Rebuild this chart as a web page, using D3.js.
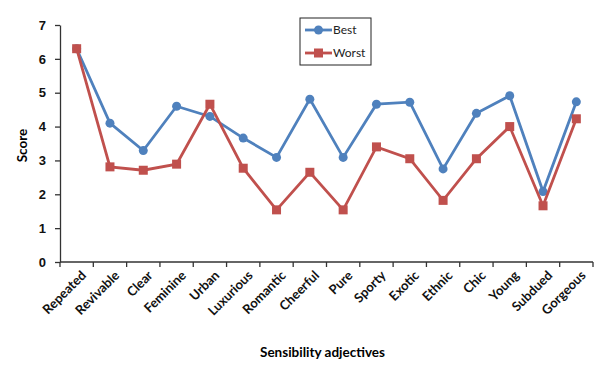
<!DOCTYPE html>
<html>
<head>
<meta charset="utf-8">
<script src="https://cdn.jsdelivr.net/npm/d3@7"></script>
<style>
  body { margin: 0; background: #fff; }
  svg { display: block; font-family: Lato, "Open Sans", sans-serif; }
  .axis path, .axis line { stroke: #333; stroke-width: 1.3; }
  .axis text { font-size: 13px; font-weight: bold; fill: #111; }
</style>
</head>
<body>
<div id="chart"></div>
<script>
"use strict";

var categories = ["Repeated", "Revivable", "Clear", "Feminine", "Urban", "Luxurious", "Romantic",
  "Cheerful", "Pure", "Sporty", "Exotic", "Ethnic", "Chic", "Young", "Subdued", "Gorgeous"];
var bestValues = [6.3, 4.1, 3.29, 4.6, 4.3, 3.66, 3.09, 4.81, 3.09, 4.66, 4.72, 2.75, 4.39, 4.91, 2.08, 4.73];
var worstValues = [6.3, 2.81, 2.71, 2.89, 4.66, 2.77, 1.54, 2.65, 1.54, 3.4, 3.05, 1.82, 3.05, 4.0, 1.66, 4.23];
var yTicks = [0, 1, 2, 3, 4, 5, 6, 7];
var seriesNames = ["Best", "Worst"];

var margin = {top: 25, right: 23, bottom: 110, left: 60},
    width = 616 - margin.left - margin.right,
    height = 372 - margin.top - margin.bottom;

var x = d3.scaleBand().domain(categories).range([0, width]),
    y = d3.scaleLinear().domain([0, 7]).range([height, 0]);

var svg = d3.select("#chart").append("svg")
    .attr("width", 616)
    .attr("height", 372)
  .append("g")
    .attr("transform", "translate(" + margin.left + "," + margin.top + ")");

// y axis
svg.append("g").attr("class", "axis")
  .call(d3.axisLeft(y).tickValues(yTicks).tickFormat(d3.format("d"))
    .tickSize(5).tickSizeOuter(0).tickPadding(9));

// x axis, ticks on band edges
var xAxis = svg.append("g").attr("class", "axis")
  .attr("transform", "translate(0," + height + ")");
xAxis.append("line").attr("x1", 0).attr("x2", width).attr("y1", 0).attr("y2", 0);
xAxis.selectAll(".edge").data(d3.range(categories.length + 1)).enter()
  .append("line").attr("class", "edge")
  .attr("x1", function(i) { return i * x.bandwidth(); })
  .attr("x2", function(i) { return i * x.bandwidth(); })
  .attr("y1", 0).attr("y2", 5);
xAxis.selectAll("text").data(categories).enter()
  .append("text")
  .attr("text-anchor", "end")
  .attr("transform", function(d) {
    return "translate(" + (x(d) + x.bandwidth() / 2 + 7) + ",11) rotate(-45)";
  })
  .attr("dy", "0.35em")
  .text(function(d) { return d; });

// axis titles
svg.append("text")
  .attr("x", width / 2 - 4).attr("y", height + 95)
  .attr("text-anchor", "middle")
  .style("font-size", "13.5px").style("font-weight", "bold")
  .text("Sensibility adjectives");
svg.append("text")
  .attr("transform", "translate(-33," + (height / 2 + 2) + ") rotate(-90)")
  .attr("text-anchor", "middle")
  .style("font-size", "13.5px").style("font-weight", "bold")
  .text("Score");

var line = d3.line()
  .x(function(d, i) { return x(categories[i]) + x.bandwidth() / 2; })
  .y(function(d) { return y(d); });

// Best
svg.append("path").datum(bestValues)
  .attr("fill", "none").attr("stroke", "#4F81BD").attr("stroke-width", 2.8)
  .attr("d", line);
svg.selectAll(".best").data(bestValues).enter()
  .append("circle").attr("class", "best")
  .attr("cx", function(d, i) { return x(categories[i]) + x.bandwidth() / 2; })
  .attr("cy", function(d) { return y(d); })
  .attr("r", 4.5)
  .attr("fill", "#4F81BD");

// Worst
svg.append("path").datum(worstValues)
  .attr("fill", "none").attr("stroke", "#C0504D").attr("stroke-width", 2.8)
  .attr("d", line);
svg.selectAll(".worst").data(worstValues).enter()
  .append("rect").attr("class", "worst")
  .attr("x", function(d, i) { return x(categories[i]) + x.bandwidth() / 2 - 4.5; })
  .attr("y", function(d) { return y(d) - 4.5; })
  .attr("width", 9).attr("height", 9)
  .attr("fill", "#C0504D");

// legend
var legend = svg.append("g").attr("transform", "translate(" + (300 - margin.left) + "," + (18 - margin.top) + ")");
legend.append("rect").attr("width", 71).attr("height", 47)
  .attr("fill", "#fff").attr("stroke", "#222").attr("stroke-width", 1);
var colors = ["#4F81BD", "#C0504D"];
seriesNames.forEach(function(name, i) {
  var g = legend.append("g").attr("transform", "translate(5," + (12 + i * 23) + ")");
  g.append("line").attr("x1", 0).attr("x2", 27).attr("stroke", colors[i]).attr("stroke-width", 2.8);
  if (i === 0) {
    g.append("circle").attr("cx", 13.5).attr("r", 4.5).attr("fill", colors[i]);
  } else {
    g.append("rect").attr("x", 9).attr("y", -4.5).attr("width", 9).attr("height", 9).attr("fill", colors[i]);
  }
  g.append("text").attr("x", 28).attr("dy", "0.35em")
    .style("font-size", "12px").style("fill", "#222")
    .text(name);
});
</script>
</body>
</html>
